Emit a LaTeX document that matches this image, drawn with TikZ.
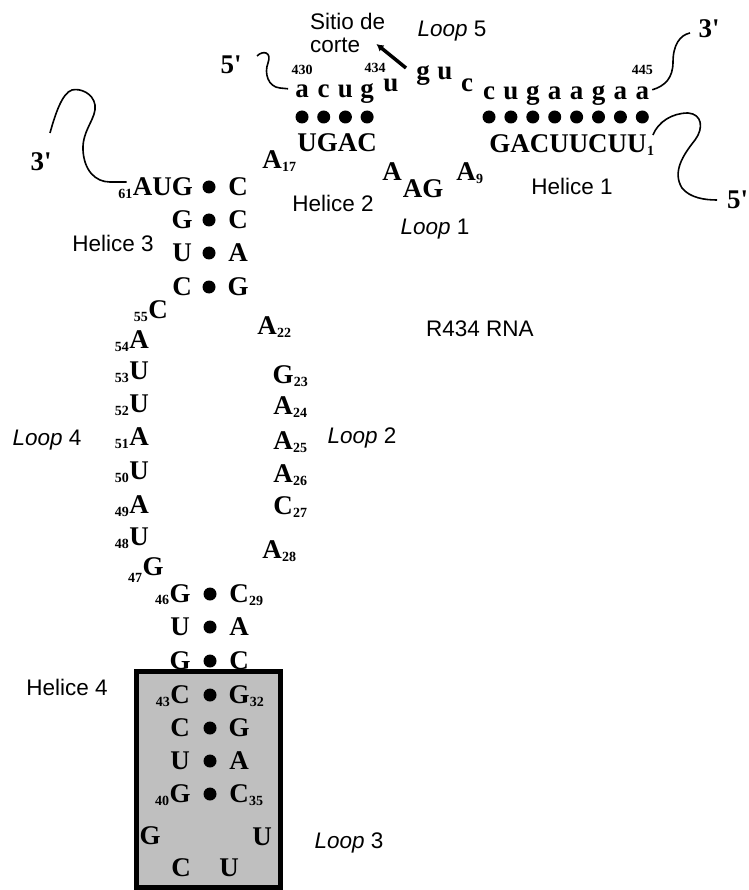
\documentclass[tikz,border=0pt]{standalone}
\usepackage{fontspec}
\setmainfont{Liberation Serif}
\setsansfont{Liberation Sans}
\usetikzlibrary{arrows.meta,positioning}

\begin{document}
\begin{tikzpicture}[x=1pt, y=-1pt,
    nt/.style={font=\fontsize{27}{27}\selectfont\bfseries, inner sep=0pt},
    lc/.style={nt, anchor=base},
    num/.style={font=\fontsize{14}{14}\selectfont\bfseries, inner sep=0pt},
    numL/.style={label={[num, yshift=-7pt]left:#1}},
    numR/.style={label={[num, yshift=-7pt]right:#1}},
    bp/.style={circle, fill, inner sep=0pt, minimum size=13pt},
    tag/.style={font=\sffamily\fontsize{22.5}{23}\selectfont, inner sep=0pt},
    strand/.style={line width=1.6pt},
    cutarrow/.style={-{Latex[length=7pt, width=8pt]}, line width=3.5pt},
    shaded/.style={draw, line width=5pt, fill=black!25}
  ]
    \useasboundingbox (0,0) rectangle (748,890);

    % helice 1
    \foreach \b [count=\i] in {c,u,g,a,a,g,a,a} {
      \node[lc] (h1t\i) at ({489+21.9*(\i-1)},100) {\b};
      \node[bp] (h1d\i) at ({489+21.9*(\i-1)},117) {};
    }
    \node[num, above=12pt of h1t8] (n445) {445};
    \node[nt, numR=1] (h1b) at (568,144) {GACUUCUU};

    % helice 2
    \foreach \b [count=\i] in {a,c,u,g} {
      \node[lc] (h2t\i) at ({302+21.7*(\i-1)},98) {\b};
      \node[bp] (h2d\i) at ({302+21.7*(\i-1)},117) {};
    }
    \node[num, above=10pt of h2t1] (n430) {430};
    \node[nt] (h2b) at (337,143) {UGAC};
    \node[nt, numR=17] (a17) at (272,160) {A};

    % loop 5
    \node[lc] (u434) at (391,92) {u};
    \node[num] (n434) at (375,68) {434};
    \node[lc] (g435) at (423,80) {g};
    \node[lc] (u436) at (445,80) {u};
    \node[lc] (c437) at (467,92) {c};

    % loop 1
    \node[nt, numR=9] (a9) at (466,172) {A};
    \node[nt] (ag) at (423,189) {AG};
    \node[nt] (a12) at (392,172) {A};

    % helice 3
    \node[nt, numL=61, anchor=east] (aug) at (193,187) {AUG};
    \node[bp] (h3d1) at (209,187) {};
    \node[nt] (h3r1) at (238,187) {C};
    \foreach \l/\r/\y [count=\i from 2] in {G/C/220, U/A/253, C/G/287} {
      \node[nt] (h3l\i) at (182,\y) {\l};
      \node[bp] (h3d\i) at (209,\y) {};
      \node[nt] (h3r\i) at (238,\y) {\r};
    }

    % loop 4 and loop 2
    \node[nt, numL=55] (c55) at (158,310) {C};
    \foreach \b/\n/\y in {A/54/340, U/53/371, U/52/404, A/51/437, U/50/471, A/49/505, U/48/537}
      \node[nt, numL=\n] (l\n) at (139,\y) {\b};
    \node[nt, label={[num, yshift=-11pt]left:47}] (g47) at (153,567) {G};
    \node[nt, numR=22] (a22) at (267,326) {A};
    \foreach \b/\n/\y in {G/23/375, A/24/406, A/25/441, A/26/474, C/27/506}
      \node[nt, numR=\n] (r\n) at (283,\y) {\b};
    \node[nt, numR=28] (a28) at (272,550) {A};

    % helice 4
    \draw[shaded] (136,671) rectangle (280,887);
    \foreach \l/\r/\y [count=\i] in {G/C/594, U/A/627, G/C/661, C/G/695, C/G/728, U/A/761, G/C/794} {
      \node[nt] (h4l\i) at (180,\y) {\l};
      \node[bp] (h4d\i) at (210,\y) {};
      \node[nt] (h4r\i) at (239,\y) {\r};
    }
    \node[num, left=0pt of h4l1, yshift=-6pt] (n46) {46};
    \node[num, right=0pt of h4r1, yshift=-7pt] (n29) {29};
    \node[num, left=0pt of h4l4, yshift=-7pt] (n43) {43};
    \node[num, right=0pt of h4r4, yshift=-7pt] (n32) {32};
    \node[num, left=0pt of h4l7, yshift=-7pt] (n40) {40};
    \node[num, right=0pt of h4r7, yshift=-7pt] (n35) {35};
    \node[nt] (g39) at (150,836) {G};
    \node[nt] (u36) at (262,837) {U};
    \node[nt] (c38) at (181,868) {C};
    \node[nt] (u37) at (229,868) {U};

    % extremos 5' y 3'
    \node[nt] (p5a) at (231,65) {5\textquotesingle};
    \node[nt] (p3a) at (709,29) {3\textquotesingle};
    \node[nt] (p3b) at (41,162) {3\textquotesingle};
    \node[nt, anchor=west] (p5b) at (727,200) {5\textquotesingle};
    \coordinate (tip5a) at (257,56);
    \coordinate (tip3a) at (690,33);
    \coordinate (tip3b) at (50,133);
    \coordinate (tip5b) at (717,200);

    \draw[strand] (tip5a) .. controls (263,50) and (272,52) .. (268,63)
      .. controls (264,73) and (268,87) .. (280,88) -- ([xshift=-7pt,yshift=3pt]h2t1.west);
    \draw[strand] ([xshift=3pt,yshift=4pt]h1t8.east) .. controls (665,86) and (673,78) .. (673,62)
      .. controls (673,45) and (680,35) .. (tip3a);
    \draw[strand] ([xshift=6pt,yshift=9pt]h1b.east) .. controls (658,122) and (672,113) .. (688,113)
      .. controls (702,114) and (704,128) .. (695,140)
      .. controls (683,155) and (672,172) .. (682,188)
      .. controls (690,198) and (705,200) .. (tip5b);
    \draw[strand] ([xshift=-6pt,yshift=5pt]aug.west) -- (110,182)
      .. controls (95,182) and (84,170) .. (83,150)
      .. controls (82,130) and (97,118) .. (95,105)
      .. controls (93,93) and (80,88) .. (72,90)
      .. controls (62,93) and (55,115) .. (tip3b);

    % sitio de corte
    \node[tag, align=left, anchor=west] (corte) at (310,33) {Sitio de\\corte};
    \coordinate (cutpt) at (406,68);
    \draw[cutarrow] (cutpt) -- ([xshift=-9pt,yshift=-11pt]corte.east);

    % rotulos
    \node[tag] (lp5) at (452,31) {\textit{Loop} 5};
    \node[tag] (hl1) at (572,186) {Helice 1};
    \node[tag] (hl2) at (333,203) {Helice 2};
    \node[tag] (lp1) at (435,229) {\textit{Loop} 1};
    \node[tag] (hl3) at (113,243) {Helice 3};
    \node[tag] (rna) at (480,329) {R434 RNA};
    \node[tag] (lp4) at (47,440) {\textit{Loop} 4};
    \node[tag] (lp2) at (362,438) {\textit{Loop} 2};
    \node[tag] (hl4) at (67,687) {Helice 4};
    \node[tag] (lp3) at (349,843) {\textit{Loop} 3};
\end{tikzpicture}
\end{document}
